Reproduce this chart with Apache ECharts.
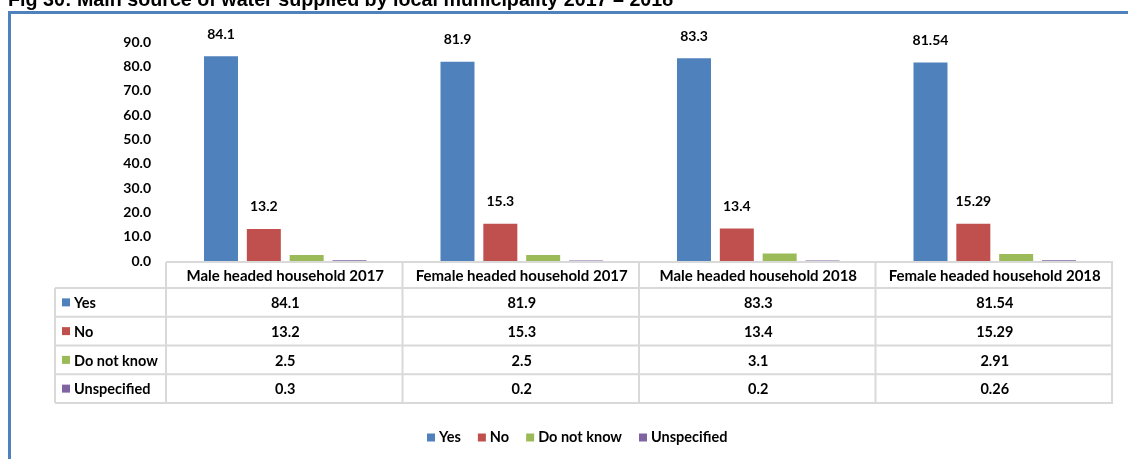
<!DOCTYPE html>
<html><head><meta charset="utf-8">
<script src="https://cdn.jsdelivr.net/npm/echarts@6/dist/echarts.min.js"></script>
<style>html,body{margin:0;padding:0;background:#fff}#c{width:1128px;height:459px}</style>
</head><body><div id="c"></div>
<script>
const titleText = 'Fig 30: Main source of water supplied by local municipality 2017 – 2018';
const categories = ['Male headed household 2017', 'Female headed household 2017', 'Male headed household 2018', 'Female headed household 2018'];
const seriesNames = ['Yes', 'No', 'Do not know', 'Unspecified'];
const yesValues = [84.1, 81.9, 83.3, 81.54];
const noValues = [13.2, 15.3, 13.4, 15.29];
const dontKnowValues = [2.5, 2.5, 3.1, 2.91];
const unspecifiedValues = [0.3, 0.2, 0.2, 0.26];
const yMin = 0, yMax = 90, yInterval = 10;
const colors = ['#4F81BD', '#C0504D', '#9BBB59', '#8064A2'];
const labelled = [true, true, false, false];

const allValues = [yesValues, noValues, dontKnowValues, unspecifiedValues];
const FONT = 'Lato';
const gridL = 167, gridR = 15, gridT = 42, gridB = 198;

const chart = echarts.init(document.getElementById('c'), null, {renderer: 'canvas'});

const series = seriesNames.map((n, i) => ({
  name: n, type: 'bar', data: allValues[i],
  barWidth: 34, barGap: '26%',
  itemStyle: {color: colors[i]},
  label: {show: labelled[i], position: 'top', distance: 15, color: '#000', fontFamily: FONT, fontWeight: 'bold', fontSize: 14}
}));

chart.setOption({
  animation: false,
  textStyle: {fontFamily: FONT},
  grid: {left: gridL, right: gridR, top: gridT, bottom: gridB, containLabel: false},
  xAxis: {type: 'category', data: categories, axisLabel: {show: false}, axisLine: {show: false}, axisTick: {show: false}},
  yAxis: {type: 'value', min: yMin, max: yMax, interval: yInterval,
    axisLine: {show: false}, axisTick: {show: false}, splitLine: {show: false},
    axisLabel: {margin: 16, color: '#000', fontFamily: FONT, fontWeight: 'bold', fontSize: 14, formatter: v => v.toFixed(1)}},
  legend: {left: 427, top: 430, padding: 0, itemWidth: 8, itemHeight: 8, itemGap: 17, icon: 'rect',
    textStyle: {color: '#000', fontFamily: FONT, fontWeight: 'bold', fontSize: 14.5, padding: [0, 0, 0, -1]},
    data: seriesNames},
  series: series
});

// Build frame, title and data table
const W = 1128;
const colW = (W - gridL - gridR) / categories.length;
const tableTop = 262, headerH = 26, rowH = 28.75, rowLabelLeft = 55;
const tableRight = W - gridR;
const border = '#D9D9D9';
const g = [];
g.push({type: 'line', shape: {x1: 8, y1: 12.5, x2: W, y2: 12.5}, style: {stroke: '#4F81BD', lineWidth: 3}});
g.push({type: 'line', shape: {x1: 9.5, y1: 11, x2: 9.5, y2: 459}, style: {stroke: '#4F81BD', lineWidth: 3}});
g.push({type: 'text', style: {text: titleText, x: 8, y: 11, verticalAlign: 'bottom', font: 'bold 19.7px "Liberation Sans"', fill: '#000'}});
// horizontal lines
g.push({type: 'line', shape: {x1: gridL - 1, y1: tableTop, x2: tableRight, y2: tableTop}, style: {stroke: border, lineWidth: 2}});
for (let r = 0; r <= seriesNames.length; r++) {
  const y = tableTop + headerH + r * rowH;
  g.push({type: 'line', shape: {x1: rowLabelLeft, y1: y, x2: tableRight, y2: y}, style: {stroke: border, lineWidth: 2}});
}
const tableBottom = tableTop + headerH + seriesNames.length * rowH;
g.push({type: 'line', shape: {x1: rowLabelLeft, y1: tableTop + headerH, x2: rowLabelLeft, y2: tableBottom}, style: {stroke: border, lineWidth: 2}});
for (let c = 0; c <= categories.length; c++) {
  const x = gridL - 1 + c * colW;
  g.push({type: 'line', shape: {x1: x, y1: tableTop, x2: x, y2: tableBottom}, style: {stroke: border, lineWidth: 2}});
}
categories.forEach((cat, c) => {
  const cx = chart.convertToPixel({xAxisIndex: 0}, c);
  g.push({type: 'text', style: {text: cat, x: cx, y: tableTop + headerH / 2 + 1, align: 'center', verticalAlign: 'middle', font: 'bold 15px ' + FONT, fill: '#000'}});
  seriesNames.forEach((s, r) => {
    const cy = tableTop + headerH + r * rowH + rowH / 2 + 1;
    g.push({type: 'text', style: {text: String(allValues[r][c]), x: cx, y: cy, align: 'center', verticalAlign: 'middle', font: 'bold 14.5px ' + FONT, fill: '#000'}});
  });
});
seriesNames.forEach((s, r) => {
  const cy = tableTop + headerH + r * rowH + rowH / 2;
  g.push({type: 'rect', shape: {x: 62, y: cy - 4, width: 8, height: 8}, style: {fill: colors[r]}});
  g.push({type: 'text', style: {text: s, x: 74, y: cy + 1, verticalAlign: 'middle', font: 'bold 14.5px ' + FONT, fill: '#000'}});
});
chart.setOption({graphic: g});
</script>
</body></html>
